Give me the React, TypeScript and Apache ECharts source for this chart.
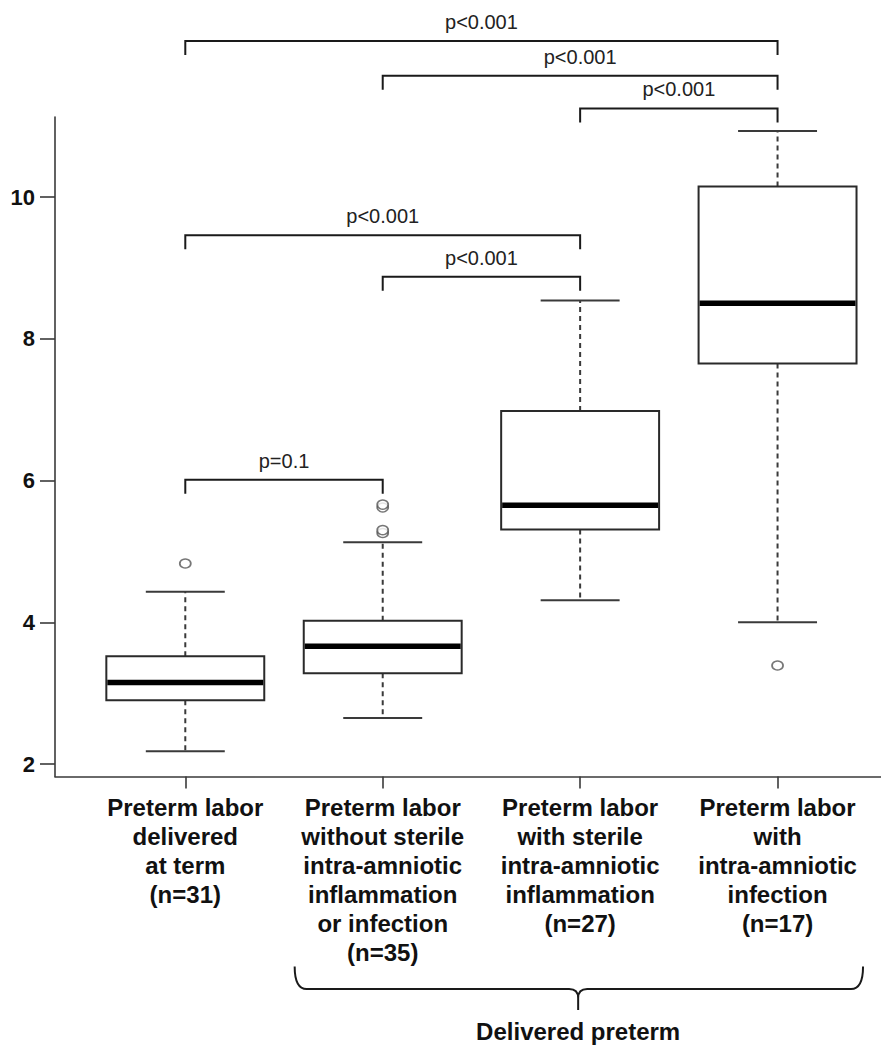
import React, { useEffect, useRef } from 'react';
import * as echarts from 'echarts';

const categories = [
  'Preterm labor\ndelivered\nat term\n(n=31)',
  'Preterm labor\nwithout sterile\nintra-amniotic\ninflammation\nor infection\n(n=35)',
  'Preterm labor\nwith sterile\nintra-amniotic\ninflammation\n(n=27)',
  'Preterm labor\nwith\nintra-amniotic\ninfection\n(n=17)',
];
const categoryPositions = [1, 2, 3, 4];
const whiskerLow = [2.18, 2.65, 4.31, 4.0];
const q1 = [2.9, 3.28, 5.31, 7.65];
const median = [3.15, 3.66, 5.65, 8.5];
const q3 = [3.52, 4.02, 6.98, 10.15];
const whiskerHigh = [4.43, 5.13, 8.54, 10.93];
const outlierGroup = [1, 2, 2, 2, 2, 4];
const outlierValue = [4.83, 5.26, 5.3, 5.62, 5.66, 3.39];
const yTicks = [2, 4, 6, 8, 10];

const compareFrom = [1, 2, 3, 1, 2, 1];
const compareTo = [4, 4, 4, 3, 3, 2];
const compareLevel = [12.2, 11.71, 11.25, 9.46, 8.875, 6.01];
const compareLabel = ['p<0.001', 'p<0.001', 'p<0.001', 'p<0.001', 'p<0.001', 'p=0.1'];

const braceFrom = 1.554;
const braceTo = 4.433;
const braceMid = 2.99;
const braceLabel = 'Delivered preterm';

const Y_MIN = 1.824;
const Y_MAX = 11.129;
const X_MIN = 0.34;
const X_MAX = 4.524;
const FONT = '"Liberation Sans", Arial, Helvetica, sans-serif';

export default function App() {
  const ref = useRef<HTMLDivElement>(null);
  useEffect(() => {
    if (!ref.current) return;
    const chart = echarts.init(ref.current, null, { renderer: 'svg' });

    const boxData = categoryPositions.map((x, i) => [x, whiskerLow[i], q1[i], median[i], q3[i], whiskerHigh[i]]);
    const outlierData = outlierGroup.map((g, i) => [g, outlierValue[i]]);
    const compareData = compareFrom.map((f, i) => [f, compareTo[i], compareLevel[i], i]);

    const option: any = {
      animation: false,
      backgroundColor: '#ffffff',
      grid: { left: 55, top: 117, right: 0, bottom: 271.5, containLabel: false, outerBoundsMode: 'none' },
      xAxis: {
        type: 'value',
        min: X_MIN,
        max: X_MAX,
        splitLine: { show: false },
        axisLine: { show: true, lineStyle: { color: '#3a3a3a', width: 1.6 } },
        axisTick: { show: true, customValues: categoryPositions, length: 12, lineStyle: { color: '#3a3a3a', width: 1.6 } },
        axisLabel: {
          show: true,
          customValues: categoryPositions,
          formatter: (v: number) => categories[Math.round(v) - 1] || '',
          margin: 16,
          fontSize: 24,
          lineHeight: 29,
          fontWeight: 'bold',
          fontFamily: FONT,
          color: '#111',
          align: 'center',
        },
      },
      yAxis: {
        type: 'value',
        min: Y_MIN,
        max: Y_MAX,
        splitLine: { show: false },
        axisLine: { show: true, lineStyle: { color: '#3a3a3a', width: 1.6 } },
        axisTick: { show: true, customValues: yTicks, length: 15, lineStyle: { color: '#3a3a3a', width: 1.6 } },
        axisLabel: {
          show: true,
          customValues: yTicks,
          margin: 20,
          fontSize: 22,
          fontWeight: 'bold',
          fontFamily: FONT,
          color: '#111',
        },
      },
      series: [
        {
          type: 'custom',
          name: 'boxes',
          clip: false,
          silent: true,
          data: boxData,
          renderItem: (params: any, api: any) => {
            const x = api.value(0);
            const lo = api.coord([x, api.value(1)]);
            const pq1 = api.coord([x, api.value(2)]);
            const pmed = api.coord([x, api.value(3)]);
            const pq3 = api.coord([x, api.value(4)]);
            const hi = api.coord([x, api.value(5)]);
            const w = api.size([0.8, 0])[0];
            const cx = lo[0];
            const dash = { stroke: '#3a3a3a', lineWidth: 2, lineDash: [5, 4], fill: 'none' };
            const solid = { stroke: '#3a3a3a', lineWidth: 2, fill: 'none' };
            return {
              type: 'group',
              children: [
                { type: 'line', shape: { x1: cx, y1: pq3[1], x2: cx, y2: hi[1] }, style: dash },
                { type: 'line', shape: { x1: cx, y1: pq1[1], x2: cx, y2: lo[1] }, style: dash },
                { type: 'line', shape: { x1: cx - w / 4, y1: hi[1], x2: cx + w / 4, y2: hi[1] }, style: solid },
                { type: 'line', shape: { x1: cx - w / 4, y1: lo[1], x2: cx + w / 4, y2: lo[1] }, style: solid },
                {
                  type: 'rect',
                  shape: { x: cx - w / 2, y: pq3[1], width: w, height: pq1[1] - pq3[1] },
                  style: { fill: '#fff', stroke: '#2a2a2a', lineWidth: 2 },
                },
                {
                  type: 'line',
                  shape: { x1: cx - w / 2 + 1, y1: pmed[1], x2: cx + w / 2 - 1, y2: pmed[1] },
                  style: { stroke: '#000', lineWidth: 5.5, fill: 'none' },
                },
              ],
            };
          },
        },
        {
          type: 'scatter',
          name: 'outliers',
          silent: true,
          data: outlierData,
          symbol: 'circle',
          symbolSize: [11, 9],
          itemStyle: { color: '#fff', borderColor: '#555', borderWidth: 1.6 },
          z: 3,
        },
        {
          type: 'custom',
          name: 'comparisons',
          clip: false,
          silent: true,
          data: compareData,
          renderItem: (params: any, api: any) => {
            const a = api.coord([api.value(0), api.value(2)]);
            const b = api.coord([api.value(1), api.value(2)]);
            const label = compareLabel[api.value(3)];
            const leg = 14;
            return {
              type: 'group',
              children: [
                {
                  type: 'polyline',
                  shape: { points: [[a[0], a[1] + leg], [a[0], a[1]], [b[0], b[1]], [b[0], b[1] + leg]] },
                  style: { stroke: '#1a1a1a', lineWidth: 2, fill: 'none' },
                },
                {
                  type: 'text',
                  x: (a[0] + b[0]) / 2,
                  y: a[1] - 19,
                  style: {
                    text: label,
                    fill: '#222',
                    fontSize: 20,
                    fontFamily: FONT,
                    align: 'center',
                    verticalAlign: 'middle',
                  },
                },
              ],
            };
          },
        },
        {
          type: 'custom',
          name: 'brace',
          clip: false,
          silent: true,
          data: [[braceFrom, braceTo, braceMid]],
          renderItem: (params: any, api: any) => {
            const L = api.coord([api.value(0), Y_MIN]);
            const R = api.coord([api.value(1), Y_MIN]);
            const M = api.coord([api.value(2), Y_MIN]);
            const base = L[1];
            const yTop = base + 190;
            const yH = base + 212.5;
            const yTip = base + 233.5;
            const l = L[0], r = R[0], m = M[0];
            const d =
              `M${l} ${yTop} Q${l} ${yH} ${l + 12} ${yH} L${m - 9} ${yH} Q${m} ${yH} ${m} ${yH + 9} L${m} ${yTip} ` +
              `M${m} ${yH + 9} Q${m} ${yH} ${m + 9} ${yH} L${r - 12} ${yH} Q${r} ${yH} ${r} ${yTop}`;
            return {
              type: 'group',
              children: [
                { type: 'path', shape: { pathData: d }, style: { stroke: '#1a1a1a', lineWidth: 2, fill: 'none' } },
                {
                  type: 'text',
                  x: m,
                  y: base + 255,
                  style: {
                    text: braceLabel,
                    fill: '#111',
                    fontSize: 24,
                    fontWeight: 'bold',
                    fontFamily: FONT,
                    align: 'center',
                    verticalAlign: 'middle',
                  },
                },
              ],
            };
          },
        },
      ],
    };
    chart.setOption(option);
    return () => chart.dispose();
  }, []);
  return (
    <div
      ref={ref}
      style={{ position: 'absolute', left: 0, top: 0, width: 881, height: 1048, background: '#fff' }}
    />
  );
}
